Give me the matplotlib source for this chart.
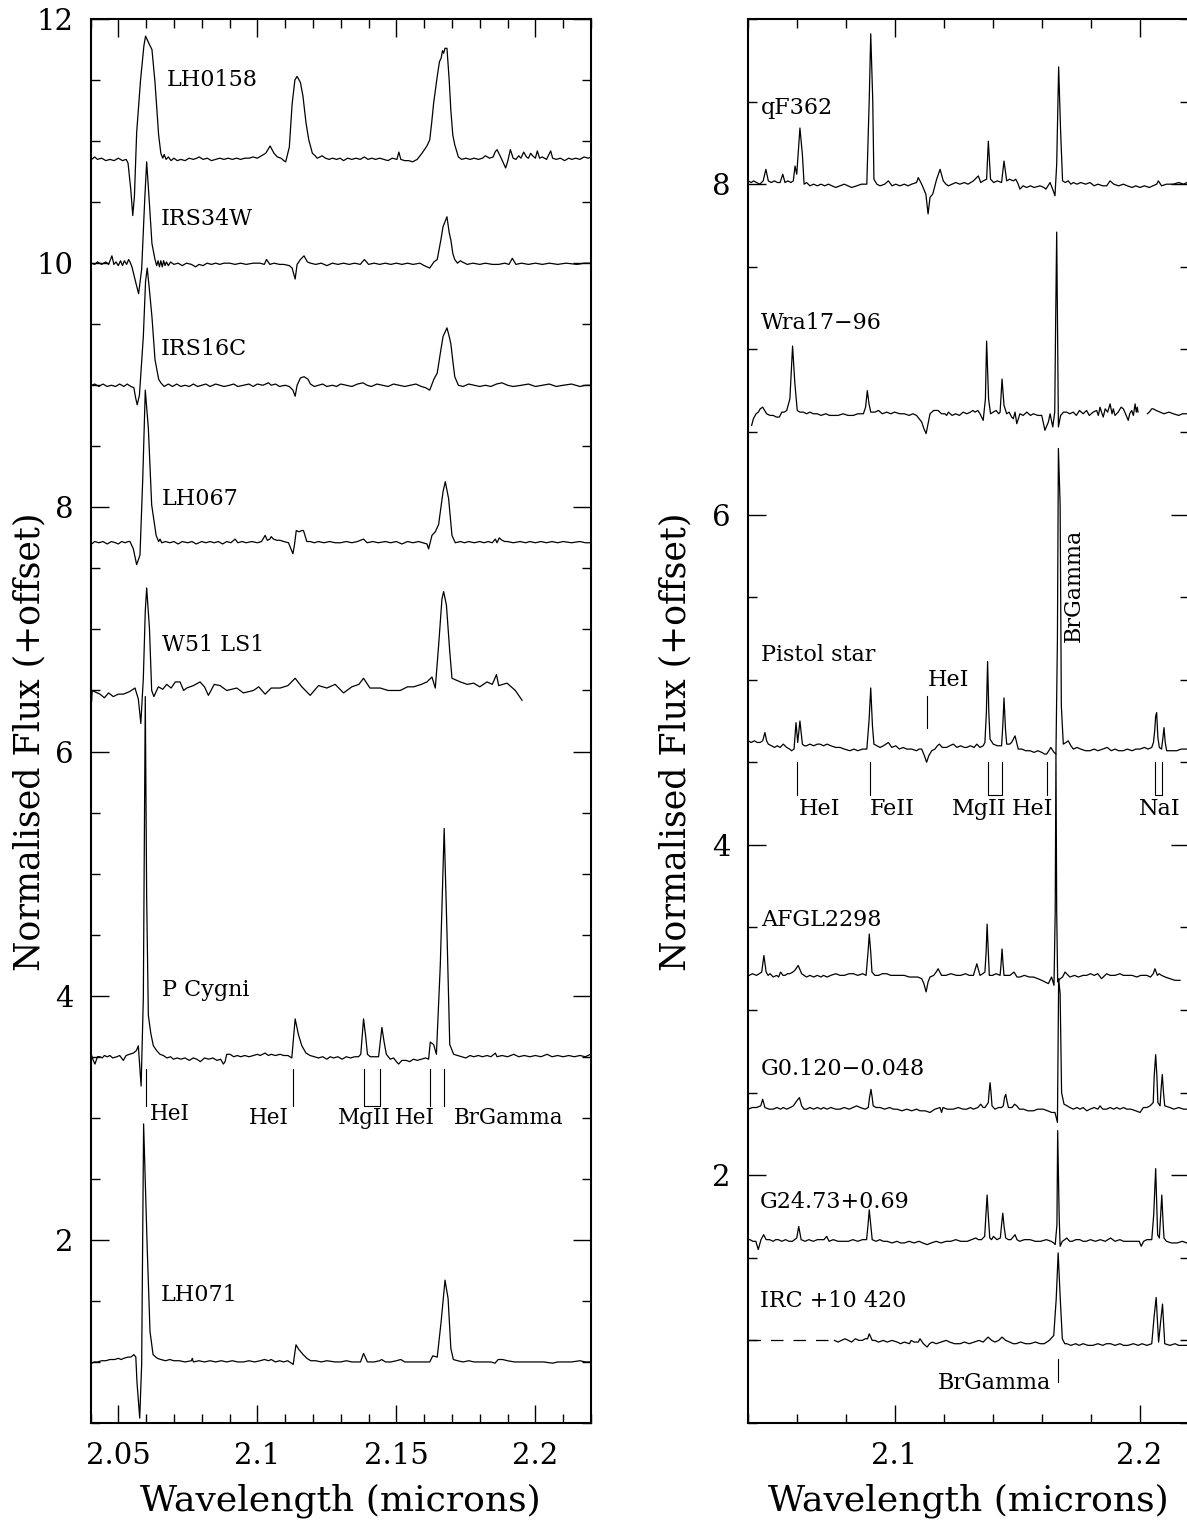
import numpy as np
import matplotlib
matplotlib.use("Agg")
import matplotlib.pyplot as plt
from matplotlib.ticker import MultipleLocator

plt.rcParams['font.family'] = ['DejaVu Serif']
nan = np.nan

# ---- spectra: (wavelength [micron], normalised flux + offset)
lh0158 = [(2.0404,10.85),(2.0415,10.87),(2.0425,10.85),(2.0440,10.86),(2.0455,10.84),(2.0470,10.85),(2.0485,10.84),
          (2.0500,10.86),(2.0515,10.84),(2.0528,10.85),(2.0535,10.82),(2.0545,10.60),(2.0552,10.39),(2.0558,10.55),
          (2.0566,11.07),(2.0580,11.50),(2.0592,11.78),(2.0598,11.86),(2.0610,11.80),(2.0621,11.75),(2.0632,11.48),
          (2.0645,11.05),(2.0653,10.90),(2.0660,10.86),(2.0665,10.89),(2.0672,10.85),(2.0680,10.87),(2.0690,10.84),
          (2.0700,10.86),(2.0712,10.84),(2.0725,10.85),(2.0740,10.84),(2.0755,10.86),(2.0770,10.85),(2.0782,10.86),
          (2.0791,10.87),(2.0805,10.85),(2.0820,10.86),(2.0835,10.84),(2.0850,10.85),(2.0865,10.86),(2.0880,10.85),
          (2.0895,10.86),(2.0910,10.85),(2.0925,10.86),(2.0940,10.85),(2.0955,10.86),(2.0970,10.86),(2.0985,10.87),
          (2.1000,10.86),(2.1015,10.88),(2.1030,10.90),(2.1046,10.96),(2.1060,10.90),(2.1072,10.87),(2.1085,10.86),
          (2.1095,10.84),(2.1102,10.83),(2.1115,10.95),(2.1125,11.30),(2.1135,11.50),(2.1143,11.53),(2.1155,11.48),
          (2.1164,11.37),(2.1175,11.15),(2.1185,11.01),(2.1198,10.90),(2.1208,10.88),(2.1215,10.86),(2.1225,10.87),
          (2.1233,10.88),(2.1245,10.86),(2.1258,10.85),(2.1270,10.86),(2.1285,10.85),(2.1298,10.86),(2.1310,10.84),
          (2.1325,10.86),(2.1340,10.85),(2.1355,10.86),(2.1370,10.85),(2.1385,10.87),(2.1398,10.85),(2.1412,10.86),
          (2.1425,10.85),(2.1440,10.86),(2.1455,10.85),(2.1470,10.84),(2.1485,10.86),(2.1502,10.85),(2.1509,10.91),
          (2.1516,10.85),(2.1530,10.84),(2.1545,10.84),(2.1558,10.83),(2.1575,10.85),(2.1592,10.90),(2.1610,10.96),
          (2.1620,11.01),(2.1627,11.15),(2.1634,11.31),(2.1647,11.53),(2.1655,11.65),(2.1661,11.68),(2.1666,11.74),
          (2.1670,11.72),(2.1675,11.76),(2.1682,11.76),(2.1690,11.50),(2.1696,11.25),(2.1703,11.05),(2.1710,10.97),
          (2.1723,10.87),(2.1735,10.85),(2.1750,10.86),(2.1765,10.85),(2.1780,10.86),(2.1795,10.85),(2.1810,10.86),
          (2.1820,10.88),(2.1835,10.86),(2.1848,10.87),(2.1855,10.91),(2.1862,10.93),(2.1875,10.87),(2.1885,10.82),
          (2.1893,10.78),(2.1900,10.83),(2.1910,10.93),(2.1920,10.86),(2.1930,10.85),(2.1940,10.88),(2.1948,10.86),
          (2.1958,10.91),(2.1968,10.87),(2.1975,10.86),(2.1983,10.90),(2.1990,10.88),(2.2000,10.86),(2.2007,10.92),
          (2.2015,10.86),(2.2025,10.87),(2.2040,10.85),(2.2055,10.92),(2.2062,10.86),(2.2075,10.85),(2.2090,10.86),
          (2.2105,10.84),(2.2120,10.86),(2.2131,10.85),(2.2145,10.86),(2.2160,10.85),(2.2175,10.87),(2.2190,10.86),
          (2.2200,10.87)]

irs34w = [(2.0404,10.00),(2.0415,9.99),(2.0425,10.01),(2.0440,9.99),(2.0455,10.01),(2.0465,9.99),(2.0477,10.06),
          (2.0484,9.99),(2.0492,10.01),(2.0500,9.98),(2.0508,10.02),(2.0515,9.98),(2.0522,10.02),(2.0530,9.99),
          (2.0537,10.03),(2.0542,10.01),(2.0549,9.97),(2.0563,9.84),(2.0573,9.75),(2.0584,9.95),(2.0595,10.52),
          (2.0602,10.83),(2.0611,10.52),(2.0621,10.16),(2.0632,10.03),(2.0638,9.98),(2.0643,10.02),(2.0648,9.97),
          (2.0653,10.02),(2.0658,9.97),(2.0663,10.02),(2.0668,9.98),(2.0673,10.01),(2.0680,9.98),(2.0688,10.01),
          (2.0700,9.99),(2.0715,10.00),(2.0730,9.98),(2.0745,10.00),(2.0763,9.99),(2.0778,9.97),(2.0790,9.99),
          (2.0805,9.98),(2.0819,10.00),(2.0835,9.99),(2.0850,10.00),(2.0865,9.99),(2.0880,10.00),(2.0901,10.00),
          (2.0920,9.99),(2.0940,10.00),(2.0960,9.99),(2.0985,10.00),(2.1010,10.00),(2.1025,9.99),(2.1033,10.03),
          (2.1045,9.99),(2.1060,10.00),(2.1080,9.99),(2.1095,9.99),(2.1115,9.98),(2.1125,9.96),(2.1136,9.87),
          (2.1143,9.99),(2.1155,10.03),(2.1168,10.06),(2.1180,10.01),(2.1191,10.00),(2.1210,9.99),(2.1230,10.00),
          (2.1250,9.98),(2.1270,10.00),(2.1290,9.99),(2.1310,10.00),(2.1330,9.99),(2.1350,10.00),(2.1370,9.99),
          (2.1385,10.03),(2.1400,9.99),(2.1420,10.00),(2.1440,9.99),(2.1460,10.00),(2.1480,9.99),(2.1500,10.00),
          (2.1520,9.99),(2.1540,10.00),(2.1560,9.99),(2.1585,10.00),(2.1600,9.98),(2.1620,9.96),(2.1635,10.01),
          (2.1647,10.03),(2.1660,10.19),(2.1668,10.30),(2.1682,10.38),(2.1690,10.25),(2.1696,10.19),(2.1703,10.08),
          (2.1710,10.03),(2.1720,10.00),(2.1730,10.02),(2.1737,10.01),(2.1755,9.99),(2.1775,10.00),(2.1800,9.99),
          (2.1820,10.00),(2.1845,9.99),(2.1868,9.99),(2.1890,10.00),(2.1905,9.99),(2.1917,10.04),(2.1930,9.99),
          (2.1950,10.00),(2.1975,9.99),(2.2000,10.00),(2.2025,9.99),(2.2050,10.00),(2.2080,9.99),(2.2110,10.00),
          (2.2150,9.99),(2.2175,10.00),(2.2200,10.00)]

irs16c = [(2.0404,9.00),(2.0415,9.01),(2.0430,8.99),(2.0445,9.01),(2.0460,8.99),(2.0475,9.00),(2.0490,8.99),
          (2.0505,9.01),(2.0520,8.99),(2.0532,9.01),(2.0545,8.99),(2.0556,8.98),(2.0562,8.90),(2.0568,8.84),
          (2.0576,8.92),(2.0590,9.40),(2.0598,9.85),(2.0604,9.96),(2.0612,9.78),(2.0621,9.56),(2.0632,9.21),
          (2.0645,9.05),(2.0653,9.02),(2.0665,8.99),(2.0680,9.01),(2.0695,8.99),(2.0710,9.01),(2.0725,8.99),
          (2.0740,9.00),(2.0755,8.99),(2.0770,9.01),(2.0785,8.99),(2.0800,9.00),(2.0815,9.01),(2.0830,8.99),
          (2.0850,9.01),(2.0865,9.00),(2.0880,8.99),(2.0900,9.00),(2.0915,9.01),(2.0930,8.99),(2.0950,9.00),
          (2.0970,9.01),(2.0985,8.99),(2.1000,9.01),(2.1020,9.00),(2.1040,9.02),(2.1050,9.00),(2.1065,9.01),
          (2.1080,8.99),(2.1100,9.00),(2.1115,8.99),(2.1128,8.96),(2.1136,8.91),(2.1143,9.00),(2.1155,9.06),
          (2.1168,9.07),(2.1182,9.05),(2.1191,9.01),(2.1205,8.99),(2.1220,9.00),(2.1235,9.01),(2.1250,8.99),
          (2.1270,9.00),(2.1285,8.99),(2.1300,9.01),(2.1320,9.00),(2.1340,8.99),(2.1360,9.01),(2.1380,9.02),
          (2.1395,9.00),(2.1410,8.99),(2.1430,9.01),(2.1450,9.00),(2.1470,8.99),(2.1490,9.01),(2.1510,9.00),
          (2.1530,8.99),(2.1550,9.00),(2.1570,9.01),(2.1590,8.99),(2.1605,8.98),(2.1620,8.96),(2.1635,9.05),
          (2.1647,9.10),(2.1660,9.29),(2.1668,9.40),(2.1682,9.47),(2.1690,9.40),(2.1696,9.34),(2.1703,9.20),
          (2.1710,9.07),(2.1723,9.00),(2.1740,8.99),(2.1760,9.01),(2.1780,9.00),(2.1800,8.99),(2.1820,9.00),
          (2.1840,8.99),(2.1860,9.01),(2.1880,9.02),(2.1900,9.00),(2.1920,8.99),(2.1950,9.00),(2.1975,9.01),
          (2.2000,8.99),(2.2025,9.00),(2.2050,9.01),(2.2075,8.99),(2.2100,9.00),(2.2130,9.01),(2.2160,8.99),
          (2.2180,9.00),(2.2200,9.00)]

lh067 = [(2.0404,7.70),(2.0415,7.72),(2.0430,7.71),(2.0445,7.72),(2.0460,7.70),(2.0475,7.72),(2.0490,7.71),
         (2.0500,7.70),(2.0512,7.72),(2.0525,7.71),(2.0535,7.72),(2.0542,7.72),(2.0554,7.66),(2.0566,7.53),
         (2.0578,7.61),(2.0588,8.24),(2.0597,8.96),(2.0608,8.65),(2.0620,8.02),(2.0636,7.77),(2.0645,7.72),
         (2.0650,7.74),(2.0656,7.71),(2.0670,7.72),(2.0685,7.71),(2.0700,7.72),(2.0715,7.70),(2.0730,7.72),
         (2.0750,7.71),(2.0765,7.72),(2.0780,7.70),(2.0800,7.72),(2.0815,7.71),(2.0830,7.72),(2.0845,7.71),
         (2.0860,7.72),(2.0875,7.70),(2.0890,7.72),(2.0905,7.71),(2.0920,7.74),(2.0930,7.71),(2.0945,7.72),
         (2.0960,7.71),(2.0980,7.72),(2.1000,7.71),(2.1015,7.72),(2.1028,7.77),(2.1036,7.73),(2.1045,7.74),
         (2.1050,7.76),(2.1058,7.74),(2.1070,7.73),(2.1082,7.73),(2.1095,7.72),(2.1112,7.71),(2.1128,7.62),
         (2.1134,7.70),(2.1140,7.81),(2.1150,7.80),(2.1160,7.81),(2.1166,7.81),(2.1178,7.72),(2.1190,7.72),
         (2.1205,7.71),(2.1220,7.72),(2.1240,7.71),(2.1260,7.72),(2.1280,7.71),(2.1300,7.71),(2.1320,7.72),
         (2.1340,7.71),(2.1360,7.72),(2.1382,7.74),(2.1395,7.71),(2.1415,7.72),(2.1435,7.71),(2.1460,7.72),
         (2.1480,7.71),(2.1500,7.72),(2.1520,7.70),(2.1540,7.72),(2.1560,7.71),(2.1580,7.72),(2.1595,7.71),
         (2.1610,7.70),(2.1616,7.66),(2.1628,7.77),(2.1640,7.80),(2.1652,7.86),(2.1668,8.13),(2.1676,8.21),
         (2.1688,8.07),(2.1700,7.77),(2.1712,7.71),(2.1730,7.72),(2.1745,7.71),(2.1760,7.72),(2.1780,7.71),
         (2.1800,7.72),(2.1815,7.71),(2.1830,7.72),(2.1845,7.71),(2.1856,7.74),(2.1862,7.71),(2.1870,7.75),
         (2.1880,7.73),(2.1890,7.72),(2.1900,7.72),(2.1920,7.71),(2.1945,7.72),(2.1965,7.71),(2.1980,7.72),
         (2.2000,7.71),(2.2020,7.72),(2.2040,7.71),(2.2060,7.72),(2.2080,7.71),(2.2100,7.72),(2.2130,7.71),
         (2.2160,7.72),(2.2180,7.71),(2.2198,7.71)]

w51_ls1 = [(2.0404,6.41),(2.0406,6.50),(2.0415,6.49),(2.0434,6.47),(2.0450,6.44),(2.0465,6.48),(2.0482,6.45),
           (2.0500,6.47),(2.0518,6.47),(2.0540,6.49),(2.0560,6.52),(2.0572,6.43),(2.0581,6.23),(2.0590,6.60),
           (2.0597,7.15),(2.0602,7.34),(2.0612,7.01),(2.0620,6.50),(2.0628,6.45),(2.0644,6.53),(2.0660,6.51),
           (2.0674,6.55),(2.0690,6.52),(2.0705,6.57),(2.0722,6.57),(2.0735,6.50),(2.0746,6.52),(2.0770,6.54),
           (2.0794,6.57),(2.0810,6.53),(2.0824,6.46),(2.0845,6.55),(2.0866,6.54),(2.0890,6.50),(2.0926,6.52),
           (2.0950,6.48),(2.0986,6.50),(2.1005,6.53),(2.1028,6.47),(2.1050,6.52),(2.1082,6.52),(2.1110,6.54),
           (2.1136,6.60),(2.1160,6.53),(2.1190,6.46),(2.1220,6.54),(2.1250,6.52),(2.1280,6.55),(2.1310,6.48),
           (2.1340,6.53),(2.1365,6.55),(2.1382,6.60),(2.1405,6.52),(2.1442,6.52),(2.1470,6.50),(2.1514,6.50),
           (2.1540,6.53),(2.1562,6.53),(2.1590,6.55),(2.1610,6.57),(2.1628,6.61),(2.1640,6.52),(2.1652,6.87),
           (2.1664,7.25),(2.1670,7.31),(2.1680,7.20),(2.1692,6.82),(2.1700,6.60),(2.1730,6.57),(2.1755,6.55),
           (2.1778,6.56),(2.1800,6.53),(2.1826,6.57),(2.1845,6.55),(2.1860,6.63),(2.1868,6.54),(2.1898,6.56),
           (2.1928,6.50),(2.1940,6.46),(2.1952,6.42)]

p_cygni = [(2.0404,3.51),(2.0410,3.47),(2.0416,3.44),(2.0425,3.50),(2.0434,3.50),(2.0442,3.49),(2.0450,3.51),
           (2.0460,3.50),(2.0470,3.51),(2.0480,3.49),(2.0495,3.50),(2.0505,3.51),(2.0518,3.47),(2.0528,3.51),
           (2.0540,3.52),(2.0554,3.53),(2.0565,3.55),(2.0572,3.59),(2.0582,3.26),(2.0590,3.98),(2.0597,6.45),
           (2.0602,4.80),(2.0608,3.84),(2.0617,3.69),(2.0626,3.59),(2.0638,3.55),(2.0650,3.52),(2.0662,3.51),
           (2.0675,3.49),(2.0688,3.50),(2.0698,3.48),(2.0712,3.49),(2.0725,3.48),(2.0740,3.49),(2.0755,3.47),
           (2.0770,3.49),(2.0782,3.48),(2.0795,3.46),(2.0810,3.49),(2.0825,3.48),(2.0840,3.49),(2.0855,3.47),
           (2.0868,3.48),(2.0878,3.44),(2.0884,3.46),(2.0890,3.52),(2.0902,3.52),(2.0915,3.50),(2.0928,3.51),
           (2.0940,3.50),(2.0955,3.51),(2.0970,3.50),(2.0986,3.51),(2.1000,3.52),(2.1010,3.51),(2.1028,3.53),
           (2.1040,3.51),(2.1050,3.52),(2.1065,3.51),(2.1082,3.52),(2.1095,3.51),(2.1110,3.51),(2.1124,3.49),
           (2.1136,3.81),(2.1148,3.68),(2.1160,3.59),(2.1175,3.53),(2.1190,3.51),(2.1205,3.50),(2.1220,3.49),
           (2.1235,3.50),(2.1250,3.48),(2.1262,3.50),(2.1274,3.49),(2.1290,3.50),(2.1305,3.48),(2.1320,3.50),
           (2.1335,3.49),(2.1350,3.50),(2.1364,3.50),(2.1372,3.52),(2.1382,3.81),(2.1390,3.66),(2.1396,3.52),
           (2.1406,3.50),(2.1420,3.50),(2.1436,3.50),(2.1448,3.74),(2.1456,3.62),(2.1464,3.52),(2.1478,3.48),
           (2.1490,3.49),(2.1500,3.46),(2.1508,3.44),(2.1520,3.47),(2.1535,3.47),(2.1548,3.46),(2.1562,3.48),
           (2.1575,3.47),(2.1590,3.48),(2.1605,3.49),(2.1616,3.48),(2.1622,3.62),(2.1634,3.60),(2.1644,3.52),
           (2.1658,4.25),(2.1672,5.37),(2.1682,4.52),(2.1692,3.60),(2.1706,3.52),(2.1720,3.51),(2.1735,3.50),
           (2.1750,3.49),(2.1765,3.51),(2.1778,3.50),(2.1795,3.51),(2.1810,3.50),(2.1826,3.51),(2.1840,3.50),
           (2.1856,3.53),(2.1862,3.50),(2.1880,3.51),(2.1900,3.50),(2.1922,3.52),(2.1940,3.50),(2.1960,3.51),
           (2.1980,3.50),(2.2000,3.51),(2.2020,3.50),(2.2042,3.52),(2.2060,3.50),(2.2080,3.51),(2.2100,3.50),
           (2.2120,3.51),(2.2140,3.50),(2.2160,3.51),(2.2180,3.50),(2.2198,3.52)]

lh071 = [(2.0404,0.99),(2.0415,1.00),(2.0425,1.00),(2.0440,1.01),(2.0455,1.01),(2.0470,1.02),(2.0487,1.02),
         (2.0500,1.03),(2.0510,1.02),(2.0520,1.03),(2.0535,1.04),(2.0545,1.04),(2.0556,1.06),(2.0563,1.04),
         (2.0567,0.84),(2.0577,0.54),(2.0584,0.98),(2.0591,2.95),(2.0604,1.93),(2.0614,1.25),(2.0625,1.06),
         (2.0640,1.03),(2.0653,1.02),(2.0670,1.01),(2.0685,1.02),(2.0700,1.01),(2.0720,1.01),(2.0740,1.00),
         (2.0763,1.01),(2.0766,1.03),(2.0770,1.00),(2.0790,1.01),(2.0810,1.00),(2.0830,1.01),(2.0850,1.00),
         (2.0870,1.01),(2.0890,1.00),(2.0910,1.01),(2.0930,1.00),(2.0950,1.00),(2.0970,1.01),(2.0990,1.00),
         (2.1010,1.01),(2.1026,1.02),(2.1040,1.01),(2.1050,1.02),(2.1065,1.00),(2.1080,1.01),(2.1095,1.00),
         (2.1109,1.01),(2.1129,0.98),(2.1139,1.14),(2.1150,1.10),(2.1165,1.06),(2.1178,1.03),(2.1192,1.01),
         (2.1210,1.01),(2.1230,1.00),(2.1250,1.01),(2.1280,1.00),(2.1300,1.00),(2.1320,1.01),(2.1340,1.00),
         (2.1355,1.00),(2.1371,1.00),(2.1382,1.07),(2.1396,1.00),(2.1420,1.00),(2.1440,1.01),(2.1447,1.02),
         (2.1461,1.00),(2.1480,1.00),(2.1500,1.01),(2.1516,1.02),(2.1530,1.00),(2.1550,1.00),(2.1580,1.00),
         (2.1600,1.00),(2.1620,1.00),(2.1631,1.05),(2.1647,1.04),(2.1661,1.33),(2.1675,1.67),(2.1686,1.52),
         (2.1696,1.11),(2.1705,1.02),(2.1720,1.01),(2.1740,1.00),(2.1760,1.01),(2.1780,1.00),(2.1800,1.00),
         (2.1820,1.00),(2.1840,1.00),(2.1855,0.99),(2.1866,1.02),(2.1882,1.02),(2.1900,1.01),(2.1925,1.00),
         (2.1950,1.00),(2.1975,1.00),(2.2000,1.00),(2.2030,1.00),(2.2062,0.99),(2.2080,1.00),(2.2105,1.00),
         (2.2130,1.00),(2.2160,1.01),(2.2180,1.00),(2.2200,1.00)]

qf362 = [(2.0403,8.02),(2.0415,8.01),(2.0425,8.02),(2.0437,8.01),(2.0450,8.00),(2.0464,8.02),(2.0475,8.09),
         (2.0485,8.02),(2.0497,8.01),(2.0510,8.02),(2.0522,8.01),(2.0533,8.01),(2.0544,8.06),(2.0553,8.01),
         (2.0565,8.02),(2.0577,8.01),(2.0587,8.02),(2.0594,8.11),(2.0601,8.06),(2.0614,8.34),(2.0624,8.18),
         (2.0631,8.00),(2.0641,8.01),(2.0655,7.99),(2.0670,8.00),(2.0685,7.99),(2.0700,8.00),(2.0715,7.99),
         (2.0730,8.00),(2.0745,7.99),(2.0760,7.98),(2.0778,7.99),(2.0795,8.00),(2.0810,7.99),(2.0825,7.98),
         (2.0846,7.99),(2.0865,8.00),(2.0887,8.00),(2.0897,8.52),(2.0903,8.91),(2.0911,8.52),(2.0916,8.03),
         (2.0928,8.00),(2.0941,7.99),(2.0960,8.00),(2.0975,8.02),(2.0990,7.99),(2.1005,8.00),(2.1022,7.99),
         (2.1040,8.00),(2.1055,7.99),(2.1070,8.00),(2.1090,8.01),(2.1097,8.04),(2.1111,8.00),(2.1128,7.94),
         (2.1137,7.82),(2.1145,7.92),(2.1156,7.94),(2.1172,8.03),(2.1186,8.09),(2.1199,8.02),(2.1210,8.00),
         (2.1220,7.99),(2.1235,8.00),(2.1250,8.01),(2.1267,8.00),(2.1285,8.01),(2.1300,8.00),(2.1322,8.02),
         (2.1342,8.05),(2.1352,8.01),(2.1362,8.02),(2.1376,8.03),(2.1383,8.26),(2.1392,8.03),(2.1405,8.01),
         (2.1420,8.02),(2.1437,8.01),(2.1447,8.14),(2.1458,8.02),(2.1470,8.03),(2.1485,8.02),(2.1495,8.03),
         (2.1505,8.00),(2.1512,7.97),(2.1525,7.99),(2.1539,7.98),(2.1555,7.99),(2.1570,7.98),(2.1594,7.99),
         (2.1610,7.98),(2.1618,7.97),(2.1635,8.01),(2.1648,7.96),(2.1655,7.93),(2.1662,8.12),(2.1670,8.71),
         (2.1678,8.32),(2.1686,8.02),(2.1697,8.01),(2.1709,8.02),(2.1720,8.00),(2.1730,8.01),(2.1745,8.00),
         (2.1760,8.01),(2.1780,8.00),(2.1798,8.01),(2.1815,7.99),(2.1830,8.00),(2.1850,7.99),(2.1866,7.99),
         (2.1880,8.02),(2.1895,8.00),(2.1915,7.99),(2.1934,8.00),(2.1950,7.99),(2.1970,7.98),(2.1985,7.99),
         (2.2002,7.98),(2.2020,7.99),(2.2040,7.98),(2.2055,7.99),(2.2070,8.00),(2.2077,8.02),(2.2090,7.99),
         (2.2110,8.00),(2.2138,8.00),(2.2160,8.01),(2.2180,8.00),(2.2194,8.01)]

wra17_96 = [(2.0417,6.54),(2.0424,6.58),(2.0435,6.61),(2.0444,6.62),(2.0452,6.64),(2.0462,6.65),(2.0470,6.63),
            (2.0478,6.61),(2.0492,6.60),(2.0505,6.60),(2.0518,6.59),(2.0530,6.59),(2.0540,6.62),(2.0550,6.62),
            (2.0560,6.63),(2.0573,6.70),(2.0584,7.02),(2.0593,6.80),(2.0603,6.63),(2.0614,6.62),(2.0628,6.62),
            (2.0641,6.61),(2.0655,6.62),(2.0669,6.61),(2.0685,6.61),(2.0700,6.60),(2.0720,6.61),(2.0735,6.60),
            (2.0750,6.60),(2.0770,6.60),(2.0790,6.61),(2.0810,6.60),(2.0832,6.60),(2.0850,6.61),(2.0873,6.61),
            (2.0882,6.65),(2.0889,6.75),(2.0896,6.67),(2.0903,6.62),(2.0920,6.62),(2.0935,6.63),(2.0950,6.61),
            (2.0968,6.62),(2.0985,6.61),(2.1000,6.62),(2.1022,6.61),(2.1040,6.61),(2.1060,6.60),(2.1075,6.61),
            (2.1090,6.60),(2.1111,6.56),(2.1120,6.52),(2.1129,6.49),(2.1137,6.55),(2.1145,6.61),(2.1160,6.63),
            (2.1178,6.63),(2.1192,6.61),(2.1206,6.61),(2.1213,6.60),(2.1220,6.62),(2.1235,6.60),(2.1250,6.61),
            (2.1265,6.60),(2.1280,6.62),(2.1295,6.61),(2.1310,6.62),(2.1320,6.63),(2.1329,6.62),(2.1340,6.63),
            (2.1349,6.61),(2.1362,6.57),(2.1371,6.70),(2.1376,7.05),(2.1384,6.70),(2.1392,6.61),(2.1403,6.62),
            (2.1415,6.63),(2.1425,6.61),(2.1431,6.62),(2.1439,6.82),(2.1447,6.66),(2.1458,6.61),(2.1468,6.62),
            (2.1478,6.59),(2.1485,6.58),(2.1492,6.62),(2.1499,6.55),(2.1512,6.61),(2.1525,6.60),(2.1540,6.62),
            (2.1555,6.60),(2.1567,6.61),(2.1585,6.60),(2.1601,6.60),(2.1614,6.51),(2.1628,6.56),(2.1635,6.61),
            (2.1646,6.53),(2.1654,6.62),(2.1658,7.20),(2.1662,7.71),(2.1666,7.00),(2.1669,6.53),(2.1678,6.60),
            (2.1690,6.62),(2.1703,6.62),(2.1715,6.61),(2.1730,6.62),(2.1742,6.60),(2.1755,6.63),(2.1770,6.61),
            (2.1784,6.63),(2.1795,6.60),(2.1811,6.62),(2.1825,6.63),(2.1832,6.60),(2.1839,6.65),(2.1845,6.62),
            (2.1852,6.59),(2.1860,6.64),(2.1870,6.62),(2.1880,6.67),(2.1888,6.61),(2.1893,6.64),(2.1900,6.60),
            (2.1913,6.62),(2.1925,6.65),(2.1934,6.64),(2.1943,6.61),(2.1954,6.57),(2.1960,6.61),(2.1968,6.63),
            (2.1975,6.60),(2.1982,6.67),(2.1987,6.62),(2.1991,6.65),(2.1994,6.62),(2.2010,nan),(2.2032,6.61),
            (2.2040,6.62),(2.2050,6.64),(2.2056,6.64),(2.2068,6.63),(2.2084,6.62),(2.2100,6.61),(2.2120,6.62),
            (2.2138,6.61),(2.2160,6.60),(2.2175,6.61),(2.2194,6.61)]

pistol_star = [(2.0403,4.63),(2.0415,4.62),(2.0428,4.63),(2.0440,4.62),(2.0451,4.62),(2.0462,4.63),(2.0471,4.68),
               (2.0478,4.63),(2.0485,4.61),(2.0498,4.60),(2.0510,4.59),(2.0522,4.60),(2.0533,4.59),(2.0546,4.61),
               (2.0560,4.59),(2.0572,4.58),(2.0580,4.57),(2.0590,4.58),(2.0598,4.74),(2.0605,4.62),(2.0614,4.75),
               (2.0624,4.61),(2.0632,4.60),(2.0641,4.60),(2.0655,4.61),(2.0670,4.60),(2.0685,4.61),(2.0696,4.61),
               (2.0710,4.60),(2.0725,4.61),(2.0740,4.60),(2.0760,4.59),(2.0778,4.59),(2.0795,4.58),(2.0818,4.57),
               (2.0835,4.58),(2.0850,4.57),(2.0870,4.58),(2.0887,4.58),(2.0896,4.75),(2.0903,4.95),(2.0910,4.72),
               (2.0916,4.61),(2.0928,4.60),(2.0941,4.59),(2.0955,4.60),(2.0975,4.62),(2.0989,4.59),(2.1005,4.60),
               (2.1020,4.58),(2.1035,4.59),(2.1050,4.58),(2.1070,4.58),(2.1090,4.57),(2.1100,4.58),(2.1111,4.58),
               (2.1122,4.54),(2.1131,4.50),(2.1140,4.54),(2.1152,4.57),(2.1165,4.58),(2.1175,4.60),(2.1183,4.61),
               (2.1195,4.59),(2.1213,4.59),(2.1225,4.60),(2.1240,4.61),(2.1255,4.59),(2.1270,4.60),(2.1285,4.59),
               (2.1295,4.59),(2.1310,4.60),(2.1325,4.59),(2.1336,4.61),(2.1349,4.59),(2.1362,4.60),(2.1369,4.62),
               (2.1375,4.80),(2.1380,5.11),(2.1385,4.80),(2.1390,4.64),(2.1403,4.61),(2.1420,4.60),(2.1437,4.60),
               (2.1442,4.72),(2.1447,4.89),(2.1453,4.70),(2.1458,4.61),(2.1470,4.61),(2.1478,4.62),(2.1492,4.66),
               (2.1505,4.58),(2.1520,4.58),(2.1535,4.57),(2.1553,4.57),(2.1570,4.56),(2.1585,4.57),(2.1601,4.56),
               (2.1612,4.55),(2.1621,4.55),(2.1630,4.57),(2.1638,4.59),(2.1651,4.56),(2.1659,4.55),(2.1665,5.25),
               (2.1669,6.40),(2.1676,6.06),(2.1681,4.84),(2.1689,4.61),(2.1700,4.62),(2.1709,4.63),(2.1720,4.60),
               (2.1730,4.58),(2.1745,4.59),(2.1760,4.58),(2.1780,4.57),(2.1798,4.57),(2.1815,4.58),(2.1830,4.57),
               (2.1850,4.58),(2.1868,4.59),(2.1885,4.57),(2.1900,4.58),(2.1915,4.57),(2.1934,4.57),(2.1950,4.58),
               (2.1970,4.57),(2.1985,4.58),(2.2002,4.58),(2.2020,4.59),(2.2035,4.58),(2.2050,4.59),(2.2057,4.62),
               (2.2062,4.69),(2.2066,4.78),(2.2070,4.80),(2.2075,4.65),(2.2081,4.59),(2.2090,4.58),(2.2095,4.64),
               (2.2100,4.71),(2.2105,4.62),(2.2111,4.57),(2.2130,4.57),(2.2152,4.57),(2.2170,4.58),(2.2193,4.58)]

afgl2298 = [(2.0407,3.21),(2.0420,3.22),(2.0437,3.21),(2.0448,3.22),(2.0458,3.23),(2.0467,3.33),(2.0476,3.23),
            (2.0484,3.21),(2.0492,3.22),(2.0505,3.20),(2.0519,3.21),(2.0527,3.20),(2.0535,3.23),(2.0545,3.21),
            (2.0553,3.21),(2.0563,3.22),(2.0573,3.22),(2.0585,3.23),(2.0593,3.24),(2.0607,3.27),(2.0621,3.22),
            (2.0631,3.21),(2.0641,3.20),(2.0655,3.21),(2.0670,3.20),(2.0685,3.21),(2.0700,3.20),(2.0710,3.21),
            (2.0725,3.20),(2.0740,3.21),(2.0760,3.22),(2.0778,3.21),(2.0795,3.21),(2.0815,3.22),(2.0832,3.22),
            (2.0850,3.21),(2.0870,3.22),(2.0884,3.21),(2.0892,3.35),(2.0897,3.46),(2.0903,3.35),(2.0908,3.23),
            (2.0920,3.21),(2.0935,3.21),(2.0950,3.22),(2.0968,3.22),(2.0985,3.21),(2.1000,3.21),(2.1022,3.21),
            (2.1040,3.21),(2.1060,3.20),(2.1077,3.20),(2.1095,3.20),(2.1111,3.19),(2.1120,3.16),(2.1129,3.11),
            (2.1137,3.17),(2.1145,3.20),(2.1160,3.21),(2.1170,3.23),(2.1178,3.25),(2.1192,3.21),(2.1210,3.21),
            (2.1230,3.22),(2.1253,3.21),(2.1270,3.21),(2.1290,3.22),(2.1305,3.21),(2.1322,3.21),(2.1336,3.28),
            (2.1349,3.21),(2.1360,3.22),(2.1369,3.23),(2.1374,3.35),(2.1378,3.52),(2.1383,3.35),(2.1387,3.21),
            (2.1400,3.21),(2.1415,3.22),(2.1431,3.21),(2.1435,3.28),(2.1439,3.37),(2.1443,3.28),(2.1447,3.21),
            (2.1460,3.21),(2.1471,3.21),(2.1488,3.23),(2.1500,3.20),(2.1512,3.20),(2.1530,3.21),(2.1550,3.20),
            (2.1567,3.20),(2.1585,3.19),(2.1601,3.18),(2.1615,3.17),(2.1628,3.16),(2.1641,3.20),(2.1651,3.15),
            (2.1656,3.60),(2.1659,4.55),(2.1662,3.60),(2.1666,3.17),(2.1676,3.19),(2.1686,3.20),(2.1696,3.23),
            (2.1716,3.20),(2.1735,3.21),(2.1750,3.20),(2.1770,3.21),(2.1784,3.21),(2.1800,3.22),(2.1815,3.21),
            (2.1830,3.22),(2.1845,3.19),(2.1866,3.22),(2.1880,3.21),(2.1900,3.21),(2.1920,3.22),(2.1934,3.21),
            (2.1950,3.21),(2.1970,3.21),(2.1989,3.20),(2.2005,3.21),(2.2030,3.21),(2.2045,3.20),(2.2056,3.22),
            (2.2063,3.25),(2.2073,3.21),(2.2080,3.22),(2.2090,3.21),(2.2105,3.20),(2.2124,3.19),(2.2145,3.18),
            (2.2165,3.18)]

g0_120 = [(2.0403,2.40),(2.0420,2.41),(2.0437,2.41),(2.0454,2.42),(2.0462,2.46),(2.0471,2.41),(2.0488,2.40),
          (2.0505,2.40),(2.0520,2.41),(2.0535,2.40),(2.0546,2.41),(2.0560,2.40),(2.0575,2.41),(2.0587,2.42),
          (2.0601,2.45),(2.0612,2.47),(2.0621,2.42),(2.0631,2.40),(2.0641,2.40),(2.0655,2.41),(2.0670,2.40),
          (2.0685,2.41),(2.0700,2.40),(2.0710,2.41),(2.0725,2.40),(2.0740,2.41),(2.0760,2.40),(2.0778,2.40),
          (2.0795,2.41),(2.0815,2.40),(2.0830,2.41),(2.0846,2.42),(2.0860,2.41),(2.0880,2.40),(2.0893,2.41),
          (2.0898,2.47),(2.0904,2.52),(2.0909,2.47),(2.0913,2.42),(2.0925,2.41),(2.0941,2.41),(2.0960,2.40),
          (2.0980,2.41),(2.0995,2.40),(2.1010,2.40),(2.1030,2.39),(2.1050,2.40),(2.1070,2.39),(2.1090,2.40),
          (2.1104,2.39),(2.1125,2.39),(2.1145,2.38),(2.1165,2.40),(2.1186,2.41),(2.1192,2.38),(2.1198,2.41),
          (2.1215,2.40),(2.1240,2.40),(2.1260,2.41),(2.1280,2.40),(2.1295,2.40),(2.1310,2.41),(2.1322,2.40),
          (2.1340,2.41),(2.1352,2.43),(2.1362,2.41),(2.1369,2.41),(2.1383,2.44),(2.1386,2.50),(2.1390,2.56),
          (2.1394,2.50),(2.1398,2.42),(2.1410,2.40),(2.1425,2.41),(2.1437,2.41),(2.1444,2.42),(2.1449,2.47),
          (2.1454,2.49),(2.1459,2.45),(2.1465,2.41),(2.1480,2.41),(2.1490,2.43),(2.1499,2.42),(2.1510,2.40),
          (2.1526,2.40),(2.1545,2.39),(2.1567,2.39),(2.1585,2.40),(2.1607,2.40),(2.1625,2.39),(2.1641,2.38),
          (2.1655,2.38),(2.1665,2.32),(2.1670,3.19),(2.1676,3.10),(2.1682,2.50),(2.1692,2.43),(2.1705,2.42),
          (2.1716,2.41),(2.1730,2.40),(2.1745,2.41),(2.1757,2.40),(2.1770,2.41),(2.1785,2.39),(2.1798,2.40),
          (2.1815,2.41),(2.1830,2.40),(2.1839,2.42),(2.1850,2.40),(2.1866,2.40),(2.1880,2.41),(2.1895,2.40),
          (2.1907,2.41),(2.1920,2.40),(2.1935,2.41),(2.1948,2.40),(2.1965,2.40),(2.1985,2.39),(2.2002,2.38),
          (2.2016,2.41),(2.2030,2.41),(2.2043,2.42),(2.2056,2.44),(2.2060,2.60),(2.2066,2.73),(2.2071,2.60),
          (2.2075,2.44),(2.2084,2.42),(2.2088,2.52),(2.2093,2.61),(2.2098,2.50),(2.2103,2.42),(2.2124,2.41),
          (2.2140,2.40),(2.2160,2.41),(2.2180,2.40),(2.2194,2.40)]

g24_73 = [(2.0398,1.61),(2.0410,1.61),(2.0422,1.60),(2.0434,1.60),(2.0444,1.55),(2.0455,1.61),(2.0466,1.64),
          (2.0476,1.61),(2.0490,1.61),(2.0505,1.60),(2.0515,1.61),(2.0526,1.61),(2.0540,1.60),(2.0555,1.61),
          (2.0570,1.60),(2.0583,1.60),(2.0601,1.62),(2.0609,1.69),(2.0619,1.61),(2.0635,1.60),(2.0650,1.61),
          (2.0669,1.60),(2.0685,1.61),(2.0698,1.61),(2.0712,1.61),(2.0723,1.63),(2.0733,1.60),(2.0750,1.61),
          (2.0770,1.60),(2.0790,1.60),(2.0812,1.60),(2.0830,1.61),(2.0850,1.60),(2.0869,1.61),(2.0886,1.61),
          (2.0892,1.70),(2.0897,1.79),(2.0903,1.70),(2.0909,1.61),(2.0925,1.60),(2.0940,1.61),(2.0954,1.60),
          (2.0970,1.60),(2.0990,1.59),(2.1010,1.60),(2.1025,1.59),(2.1040,1.59),(2.1060,1.60),(2.1080,1.59),
          (2.1100,1.60),(2.1115,1.59),(2.1133,1.58),(2.1150,1.59),(2.1170,1.60),(2.1190,1.59),(2.1211,1.60),
          (2.1230,1.60),(2.1250,1.61),(2.1270,1.60),(2.1297,1.60),(2.1315,1.61),(2.1332,1.62),(2.1342,1.61),
          (2.1355,1.61),(2.1368,1.63),(2.1373,1.75),(2.1378,1.88),(2.1383,1.75),(2.1389,1.62),(2.1396,1.61),
          (2.1404,1.63),(2.1418,1.61),(2.1432,1.62),(2.1437,1.70),(2.1442,1.77),(2.1448,1.68),(2.1454,1.62),
          (2.1465,1.61),(2.1475,1.61),(2.1492,1.64),(2.1500,1.61),(2.1511,1.60),(2.1530,1.61),(2.1553,1.61),
          (2.1575,1.60),(2.1596,1.60),(2.1620,1.61),(2.1639,1.60),(2.1650,1.59),(2.1656,1.58),(2.1663,1.70),
          (2.1666,2.27),(2.1670,1.95),(2.1672,1.76),(2.1676,1.57),(2.1685,1.60),(2.1695,1.61),(2.1703,1.62),
          (2.1715,1.60),(2.1725,1.60),(2.1740,1.61),(2.1756,1.61),(2.1770,1.60),(2.1782,1.60),(2.1800,1.61),
          (2.1820,1.60),(2.1840,1.61),(2.1860,1.60),(2.1882,1.62),(2.1900,1.60),(2.1920,1.61),(2.1935,1.60),
          (2.1953,1.60),(2.1975,1.60),(2.1999,1.60),(2.2007,1.57),(2.2017,1.60),(2.2030,1.61),(2.2050,1.61),
          (2.2058,1.76),(2.2066,2.04),(2.2074,1.64),(2.2081,1.62),(2.2086,1.75),(2.2091,1.88),(2.2096,1.72),
          (2.2100,1.62),(2.2110,1.60),(2.2130,1.59),(2.2153,1.59),(2.2175,1.60),(2.2193,1.59)]

irc_10420 = [(2.0755,1.00),(2.0770,0.99),(2.0783,1.00),(2.0798,1.01),(2.0812,1.00),(2.0825,0.99),(2.0840,1.01),
             (2.0855,1.00),(2.0869,1.00),(2.0880,1.01),(2.0890,1.01),(2.0897,1.04),(2.0909,1.00),(2.0920,1.00),
             (2.0935,0.99),(2.0954,1.00),(2.0970,0.99),(2.0990,1.00),(2.1011,0.99),(2.1025,0.98),(2.1040,0.99),
             (2.1061,0.98),(2.1068,1.00),(2.1080,0.99),(2.1097,0.99),(2.1104,1.01),(2.1118,0.98),(2.1133,0.96),
             (2.1143,0.98),(2.1154,0.99),(2.1170,0.98),(2.1190,0.99),(2.1211,1.00),(2.1225,0.99),(2.1245,0.98),
             (2.1268,0.98),(2.1285,0.99),(2.1305,0.98),(2.1325,0.99),(2.1345,1.00),(2.1362,0.99),(2.1375,1.01),
             (2.1382,1.02),(2.1397,1.00),(2.1410,0.99),(2.1425,1.00),(2.1439,1.02),(2.1454,1.00),(2.1470,0.99),
             (2.1485,0.98),(2.1496,0.98),(2.1515,0.99),(2.1535,0.98),(2.1553,0.98),(2.1575,0.99),(2.1595,0.98),
             (2.1611,0.98),(2.1632,1.00),(2.1650,1.03),(2.1660,1.25),(2.1668,1.53),(2.1676,1.27),(2.1685,1.01),
             (2.1695,0.98),(2.1703,0.98),(2.1720,0.97),(2.1740,0.98),(2.1753,0.97),(2.1770,0.98),(2.1790,0.97),
             (2.1810,0.97),(2.1830,0.98),(2.1850,0.97),(2.1865,0.98),(2.1882,0.98),(2.1900,0.97),(2.1920,0.98),
             (2.1935,0.97),(2.1953,0.97),(2.1975,0.98),(2.1995,0.97),(2.2010,0.98),(2.2030,0.97),(2.2050,0.98),
             (2.2060,1.15),(2.2068,1.26),(2.2078,0.99),(2.2086,1.11),(2.2094,1.22),(2.2103,0.98),(2.2124,0.97),
             (2.2145,0.98),(2.2160,0.97),(2.2180,0.97),(2.2193,0.97)]
irc_continuum = [(2.040, 1.0), (2.0755, 1.0)]   # dashed continuum level where no data

left_spectra = [lh0158, irs34w, irs16c, lh067, w51_ls1, p_cygni, lh071]
left_names = ["LH0158", "IRS34W", "IRS16C", "LH067", "W51 LS1", "P Cygni", "LH071"]
right_spectra = [qf362, wra17_96, pistol_star, afgl2298, g0_120, g24_73, irc_10420]
right_names = ["qF362", "Wra17\u221296", "Pistol star", "AFGL2298", "G0.120\u22120.048", "G24.73+0.69",
               "IRC +10 420"]

# line identifications: wavelengths
left_ids = [2.0601, 2.1130, 2.1622, 2.1670]
left_mg2 = [2.1382, 2.1440]
right_ids = [2.0601, 2.0900, 2.1621]
right_mg2 = [2.1380, 2.1440]
right_na1 = [2.2062, 2.2090]
right_he1_up = 2.1131
irc_brg = 2.1666

# ---- layout (label anchors, in data units)
left_name_xy = [(2.0674, 11.50), (2.0653, 10.36), (2.0653, 9.30), (2.0656, 8.07), (2.0656, 6.87),
                (2.0656, 4.05), (2.0653, 1.55)]
right_name_xy = [(2.0454, 8.46), (2.0454, 7.16), (2.0454, 5.15), (2.0454, 3.545), (2.0454, 2.642),
                 (2.0452, 1.839), (2.0452, 1.239)]

W, H = 1187, 1528
fig = plt.figure(figsize=(W / 100, H / 100), dpi=100)
bot = 1 - 1423 / H
hgt = (1423 - 19) / H
ax1 = fig.add_axes([90.5 / W, bot, (591 - 90.5) / W, hgt])
ax2 = fig.add_axes([747.5 / W, bot, (1188.5 - 747.5) / W, hgt])

lw = 0.9
for ax in (ax1, ax2):
    ax.set_xlim(2.04, 2.22)
    ax.set_ylim(0.5, 12 if ax is ax1 else 9)
    ax.yaxis.set_major_locator(MultipleLocator(2))
    ax.yaxis.set_minor_locator(MultipleLocator(0.5))
    ax.tick_params(which='both', direction='in', top=True, right=True, labelsize=21, width=1.0)
    ax.tick_params(which='major', length=13)
    ax.tick_params(which='minor', length=6.5)
    ax.tick_params(axis='x', pad=14)
    ax.tick_params(axis='y', pad=12)
    for s in ax.spines.values():
        s.set_linewidth(1.5)
    ax.set_xlabel("Wavelength (microns)", fontsize=26)
    ax.set_ylabel("Normalised Flux (+offset)", fontsize=25)
    ax.xaxis.set_label_coords(0.5, -0.043)

ax1.xaxis.set_minor_locator(MultipleLocator(0.01))
ax1.set_xticks([2.05, 2.10, 2.15, 2.20])
ax1.set_xticklabels(["2.05", "2.1", "2.15", "2.2"])
ax2.xaxis.set_minor_locator(MultipleLocator(0.02))
ax2.set_xticks([2.1, 2.2])
ax2.set_xticklabels(["2.1", "2.2"])
ax1.yaxis.set_label_coords(-0.089, 0.485)
ax2.yaxis.set_label_coords(-0.124, 0.485)

# ---- left panel
for spec, name, (tx, ty) in zip(left_spectra, left_names, left_name_xy):
    wl, fl = np.array(spec).T
    ax1.plot(wl, fl, color='black', lw=lw)
    ax1.text(tx, ty, name, fontsize=16, va='center', ha='left')

for w in left_ids:
    ax1.plot([w, w], [3.40, 3.10], color='black', lw=0.8)
ax1.plot([left_mg2[0], left_mg2[0], left_mg2[1], left_mg2[1]], [3.40, 3.10, 3.10, 3.40], color='black', lw=0.8)
ax1.text(2.0614, 3.03, "HeI", fontsize=15.5, va='center', ha='left')
ax1.text(2.1043, 3.00, "HeI", fontsize=15.5, va='center', ha='center')
ax1.text(2.1383, 3.00, "MgII", fontsize=15.5, va='center', ha='center')
ax1.text(2.1567, 3.00, "HeI", fontsize=15.5, va='center', ha='center')
ax1.text(2.1905, 3.00, "BrGamma", fontsize=15.5, va='center', ha='center')

# ---- right panel
for spec, name, (tx, ty) in zip(right_spectra, right_names, right_name_xy):
    wl, fl = np.array(spec).T
    ax2.plot(wl, fl, color='black', lw=lw)
    ax2.text(tx, ty, name, fontsize=16, va='center', ha='left')
cw, cf = np.array(irc_continuum).T
ax2.plot(cw, cf, color='black', lw=lw, dashes=(10, 8))

for w in right_ids:
    ax2.plot([w, w], [4.50, 4.30], color='black', lw=0.8)
for pair in (right_mg2, right_na1):
    ax2.plot([pair[0], pair[0], pair[1], pair[1]], [4.50, 4.30, 4.30, 4.50], color='black', lw=0.8)
ax2.plot([right_he1_up, right_he1_up], [4.71, 4.90], color='black', lw=0.8)
ax2.text(2.1135, 5.00, "HeI", fontsize=16, va='center', ha='left')
ax2.text(2.0692, 4.22, "HeI", fontsize=16, va='center', ha='center')
ax2.text(2.0990, 4.22, "FeII", fontsize=16, va='center', ha='center')
ax2.text(2.1347, 4.22, "MgII", fontsize=16, va='center', ha='center')
ax2.text(2.1563, 4.22, "HeI", fontsize=16, va='center', ha='center')
ax2.text(2.2082, 4.22, "NaI", fontsize=16, va='center', ha='center')
ax2.text(2.1730, 5.57, "BrGamma", fontsize=16, va='center', ha='center', rotation=90)

ax2.plot([irc_brg, irc_brg], [0.75, 0.89], color='black', lw=0.8)
ax2.text(2.1639, 0.74, "BrGamma", fontsize=16, va='center', ha='right')

fig.savefig("out.png", dpi=100)
